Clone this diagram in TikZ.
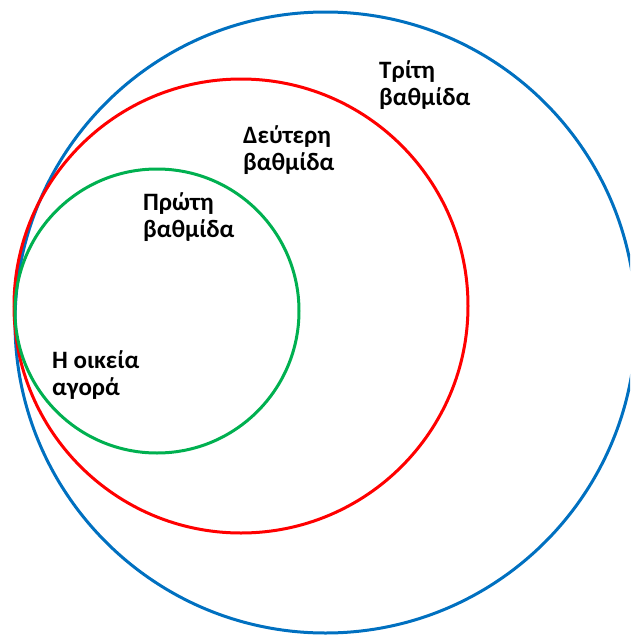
\documentclass[tikz,border=0pt]{standalone}
\usepackage{fontspec}
\setmainfont{Carlito}
\definecolor{ringblue}{HTML}{0070C0}
\definecolor{ringred}{HTML}{FF0000}
\definecolor{ringgreen}{HTML}{00B050}
\begin{document}
\begin{tikzpicture}[x=1pt,y=-1pt,
  ring/.style={line width=3pt},
  tierlabel/.style={anchor=base west,inner sep=0pt,align=left,
    font=\bfseries\fontsize{25}{27}\selectfont}]
  \useasboundingbox (0,0) rectangle (630,635);
  \clip (0,0) rectangle (630,635);
  % nested markets, all touching on the left
  \draw[ring,ringblue]  (325.5,322.5) circle (310.5);
  \draw[ring,ringred]   (241,306) circle (227);
  \draw[ring,ringgreen] (157,311) circle (142);
  % labels (anchored at the baseline of the last line)
  \node[tierlabel] (third)  at (379,105) {Τρίτη\\βαθμίδα};
  \node[tierlabel] (second) at (243,170) {Δεύτερη\\βαθμίδα};
  \node[tierlabel] (first)  at (143,237) {Πρώτη\\βαθμίδα};
  \node[tierlabel] (home)   at (52,395)  {Η οικεία\\αγορά};
\end{tikzpicture}
\end{document}
